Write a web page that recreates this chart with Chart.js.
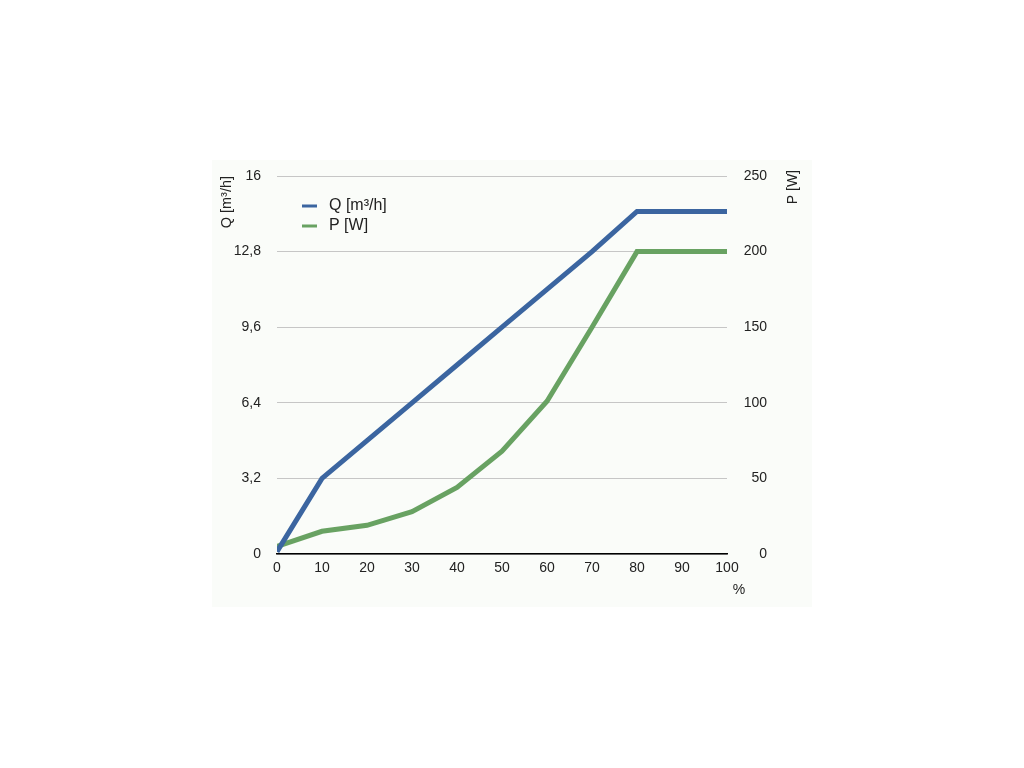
<!DOCTYPE html>
<html><head><meta charset="utf-8">
<script src="https://cdn.jsdelivr.net/npm/chart.js@4.4.1/dist/chart.umd.min.js"></script>
<style>html,body{margin:0;padding:0;background:#fff;} canvas{display:block}</style>
</head><body>
<canvas id="c" width="1024" height="768"></canvas>
<script>
const X_VALUES = [0, 10, 20, 30, 40, 50, 60, 70, 80, 90, 100];
const Q_VALUES = [0.1, 3.2, 4.8, 6.4, 8.0, 9.6, 11.2, 12.8, 14.5, 14.5, 14.5];
const P_VALUES = [5, 15, 19, 28, 44, 68, 101, 150, 200, 200, 200];
const Q_TICKS = [0, 3.2, 6.4, 9.6, 12.8, 16];
const P_TICKS = [0, 50, 100, 150, 200, 250];
const X_TICKS = [0, 10, 20, 30, 40, 50, 60, 70, 80, 90, 100];
const SERIES_LABELS = ['Q [m³/h]', 'P [W]'];
const Q_AXIS_TITLE = 'Q [m³/h]';
const P_AXIS_TITLE = 'P [W]';
const X_AXIS_TITLE = '%';

const FONT = 'Liberation Sans, Arial, Helvetica, sans-serif';
const BLUE = '#3b65a0';
const GREEN = '#68a262';
const TEXT = '#222';

Chart.defaults.font.family = FONT;
Chart.defaults.font.size = 14;
Chart.defaults.color = TEXT;

const fmt = v => String(Math.round(v * 10) / 10).replace('.', ',');

const panelPlugin = {
  id: 'panel',
  beforeDraw(chart) {
    const ctx = chart.ctx;
    ctx.save();
    ctx.fillStyle = '#fafcf9';
    ctx.fillRect(212, 160, 600, 447);
    ctx.restore();
  },
  afterDraw(chart) {
    const ctx = chart.ctx;
    const area = chart.chartArea;
    ctx.save();
    // legend
    ctx.font = '16px ' + FONT;
    ctx.textBaseline = 'middle';
    ctx.textAlign = 'left';
    chart.data.datasets.forEach((ds, i) => {
      const y = 206 + i * 20;
      ctx.strokeStyle = ds.borderColor;
      ctx.lineWidth = 3;
      ctx.beginPath();
      ctx.moveTo(area.left + 25, y);
      ctx.lineTo(area.left + 40, y);
      ctx.stroke();
      ctx.fillStyle = TEXT;
      ctx.fillText(ds.label, area.left + 52, y);
    });
    // right axis title, rotated counter-clockwise
    ctx.font = '14px ' + FONT;
    ctx.fillStyle = TEXT;
    ctx.save();
    ctx.translate(793, area.top - 6);
    ctx.rotate(-Math.PI / 2);
    ctx.textAlign = 'right';
    ctx.textBaseline = 'middle';
    ctx.fillText(P_AXIS_TITLE, 0, 0);
    ctx.restore();
    // x axis title
    const xs = chart.scales.x;
    ctx.textAlign = 'center';
    ctx.textBaseline = 'middle';
    ctx.fillText(X_AXIS_TITLE, xs.right + 12, 590);
    ctx.restore();
  }
};

new Chart(document.getElementById('c'), {
  type: 'line',
  data: {
    datasets: [
      { label: SERIES_LABELS[0], data: X_VALUES.map((x, i) => ({ x, y: Q_VALUES[i] })), yAxisID: 'yQ',
        borderColor: BLUE, backgroundColor: BLUE, borderWidth: 5, pointRadius: 0, tension: 0, borderJoinStyle: 'miter' },
      { label: SERIES_LABELS[1], data: X_VALUES.map((x, i) => ({ x, y: P_VALUES[i] })), yAxisID: 'yP',
        borderColor: GREEN, backgroundColor: GREEN, borderWidth: 5, pointRadius: 0, tension: 0, borderJoinStyle: 'miter' }
    ]
  },
  options: {
    responsive: false,
    animation: false,
    layout: { padding: { left: 212, right: 257, top: 176, bottom: 161 } },
    plugins: { legend: { display: false }, tooltip: { enabled: false } },
    scales: {
      x: {
        type: 'linear', min: 0, max: 100,
        afterBuildTicks: s => { s.ticks = X_TICKS.map(v => ({ value: v })); },
        afterFit: s => { s.height = 53; },
        grid: { display: false, drawTicks: false },
        border: { display: true, color: '#000', width: 1.5 },
        ticks: { padding: 6, color: TEXT, font: { size: 14 } }
      },
      yQ: {
        type: 'linear', position: 'left', min: 0, max: 16,
        afterBuildTicks: s => { s.ticks = Q_TICKS.map(v => ({ value: v })); },
        afterFit: s => { s.width = 65; },
        grid: { color: '#c6c6c6', lineWidth: 1, drawTicks: false },
        border: { display: false },
        ticks: { padding: 16, color: TEXT, callback: v => fmt(v) },
        title: { display: true, text: Q_AXIS_TITLE, align: 'end', padding: { top: 6.6, bottom: 0 }, color: TEXT, font: { size: 14.5 } }
      },
      yP: {
        type: 'linear', position: 'right', min: 0, max: 250,
        afterBuildTicks: s => { s.ticks = P_TICKS.map(v => ({ value: v })); },
        afterFit: s => { s.width = 40; },
        grid: { display: false, drawTicks: false },
        border: { display: false },
        ticks: { padding: 16, crossAlign: 'far', color: TEXT, callback: v => fmt(v) }
      }
    }
  },
  plugins: [panelPlugin]
});
</script>
</body></html>
